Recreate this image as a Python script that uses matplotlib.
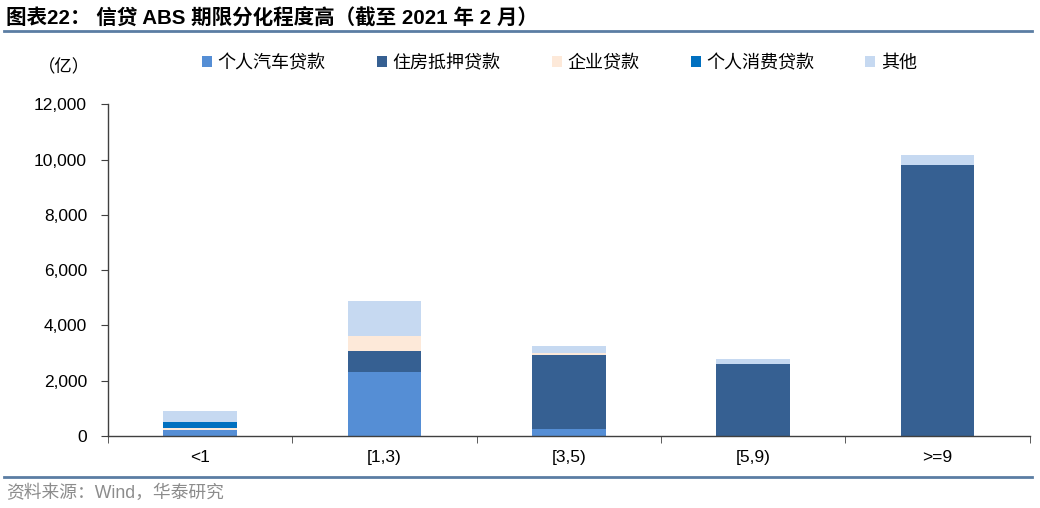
import numpy as np
from matplotlib import pyplot as plt
from matplotlib.patches import Patch
from matplotlib.lines import Line2D

plt.rcParams['font.family'] = ['Liberation Sans', 'Noto Sans CJK SC']

### Data (亿)
cats = ['<1', '[1,3)', '[3,5)', '[5,9)', '>=9']
names = ['个人汽车贷款', '住房抵押贷款', '企业贷款', '个人消费贷款', '其他']
car = [220, 2320, 250, 0, 0]
house = [0, 750, 2680, 2590, 9790]
corp = [70, 560, 70, 0, 0]
consumer = [220, 0, 0, 0, 0]
other = [390, 1260, 240, 190, 370]
colors = ['#558ED5', '#366092', '#FDE9D9', '#0070C0', '#C6D9F1']

# Plot
fig = plt.figure(figsize=(10.4, 5.08), dpi=100)
ax = fig.add_axes([0.1038, 0.1417, 0.8862, 0.653])

x = np.arange(len(cats))
bottom = np.zeros(len(cats))
for vals, c in zip([car, house, corp, consumer, other], colors):
    ax.bar(x, vals, 0.4, bottom=bottom, color=c, linewidth=0)
    bottom += np.array(vals)

ax.set_xlim(-0.5, 4.5)
ax.set_ylim(0, 12000)
ax.set_yticks(np.arange(0, 12001, 2000))
ax.set_yticklabels(['{:,}'.format(v) for v in range(0, 12001, 2000)], fontsize=12.5)
ax.set_xticks(x)
ax.set_xticklabels(cats, fontsize=12.5)
ax.set_xticks(np.arange(-0.5, 5, 1), minor=True)
ax.tick_params(axis='x', which='major', length=0, pad=10)
ax.tick_params(axis='x', which='minor', length=5, direction='out', color='#404040')
ax.tick_params(axis='y', length=5, direction='out', color='#404040', pad=10)
for s in ['top', 'right']:
    ax.spines[s].set_visible(False)
for s in ['left', 'bottom']:
    ax.spines[s].set_color('#404040')
    ax.spines[s].set_linewidth(1)

handles = [Patch(facecolor=c, edgecolor='none') for c in colors]
fig.legend(handles, names, loc='center', bbox_to_anchor=(0.538, 0.876), ncol=5,
           frameon=False, handlelength=0.55, handleheight=0.55,
           handletextpad=0.3, columnspacing=2.85,
           prop={'family': ['Noto Sans CJK SC'], 'size': 13})

fig.text(0.036, 0.868, '（亿）', fontsize=12.5, family=['Noto Sans CJK SC'],
         va='center', ha='left')

# title and source
fig.text(0.006, 0.963, '图表22： 信贷 ABS 期限分化程度高（截至 2021 年 2 月）',
         fontsize=14.8, fontweight='bold', va='center', ha='left')
fig.add_artist(Line2D([0.004, 0.992], [0.939, 0.939], color='#5B7DA3', lw=2))
fig.add_artist(Line2D([0.004, 0.992], [0.061, 0.061], color='#5B7DA3', lw=2))
fig.text(0.006, 0.029, '资料来源：Wind，华泰研究', fontsize=12.8, color='#8C8C8C',
         va='center', ha='left')

fig.savefig('out.png', dpi=100)
